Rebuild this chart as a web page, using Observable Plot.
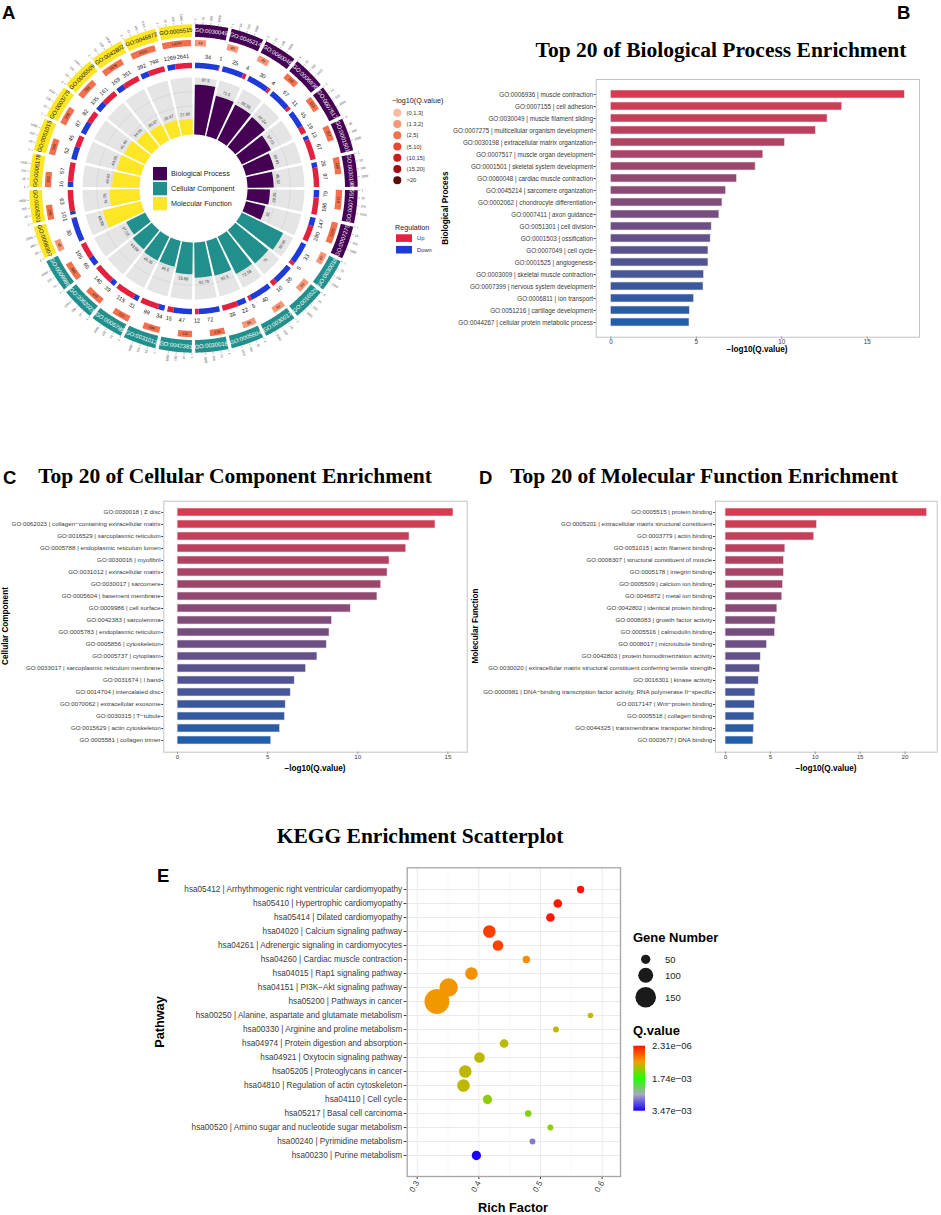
<!DOCTYPE html>
<html><head><meta charset="utf-8">
<script src="https://cdn.jsdelivr.net/npm/d3@7"></script>
<script src="https://cdn.jsdelivr.net/npm/@observablehq/plot@0.6"></script>
<style>
body{margin:0;background:#fff}
#root{position:relative;width:941px;height:1215px;overflow:hidden;background:#fff}
.panel{position:absolute}
.panel svg{overflow:visible}
</style></head><body><div id="root"></div>
<script>
// ================= DATA =================
// Panel A (circular GO plot), clockwise from 12 o'clock
const circleIds = ["GO:0030049","GO:0045214","GO:0060048","GO:0006936","GO:0007517","GO:0001501","GO:0030198","GO:0007155","GO:0007275",
  "GO:0030016","GO:0016529","GO:0030017","GO:0005604","GO:0030018","GO:0042383","GO:0031012","GO:0005788","GO:0062023","GO:0009986",
  "GO:0008307","GO:0005201","GO:0005178","GO:0051015","GO:0003779","GO:0005509","GO:0042802","GO:0046872","GO:0005515"];
const circleCats = ["BP","BP","BP","BP","BP","BP","BP","BP","BP",
  "CC","CC","CC","CC","CC","CC","CC","CC","CC","CC",
  "MF","MF","MF","MF","MF","MF","MF","MF","MF"];
const circleRatio = [87.5,72.5,69.39,67.24,57.01,50.91,45.92,39.35,35,
  80.85,75,72.58,62.5,61.76,55.88,46.5,46.35,43.09,37.03,
  68.88,52.79,48.03,44.05,41.42,34.59,30.97,28.67,27.35];
const circleDown = [34,25,30,67,45,13,26,79,147, 33,38,40,22,72,47,34,31,39,60, 30,10,16,52,87,105,169,392,1269];
const circleUp = [1,4,4,11,19,67,97,186,280, 5,10,5,38,12,15,99,115,140,105, 1,63,57,45,82,161,351,798,2641];
const circleTotal = [40,40,49,116,112,157,268,673,1220, 47,64,62,96,136,111,286,315,415,446, 45,138,152,220,408,769,1679,4151,14297];
const circleQLevel = [1,1,1,2,2,2,2,2,2, 1,1,1,1,2,2,2,2,2,2, 1,2,2,2,2,2,2,2,2];
const qLevelLabels = ["(0,1.3]","(1.3,2]","(2,5]","(5,10]","(10,15]","(15,20]",">20"];
const qLevelColors = ["#FCBBA1","#F99677","#F4704C","#EC4530","#CC1C1F","#A10F15","#5E0B0D"];
const catNames = ["Biological Process","Cellular Component","Molecular Function"];
const catColors = ["#440154","#21908C","#FDE725"];
const scaleTicks = [1,10,100,1000];

// Panel B
const bpLabels = ["GO:0006936 | muscle contraction","GO:0007155 | cell adhesion","GO:0030049 | muscle filament sliding","GO:0007275 | multicellular organism development","GO:0030198 | extracellular matrix organization","GO:0007517 | muscle organ development","GO:0001501 | skeletal system development","GO:0060048 | cardiac muscle contraction","GO:0045214 | sarcomere organization","GO:0002062 | chondrocyte differentiation","GO:0007411 | axon guidance","GO:0051301 | cell division","GO:0001503 | ossification","GO:0007049 | cell cycle","GO:0001525 | angiogenesis","GO:0003009 | skeletal muscle contraction","GO:0007399 | nervous system development","GO:0006811 | ion transport","GO:0051216 | cartilage development","GO:0044267 | cellular protein metabolic process"];
const bpValues = [17.2,13.54,12.68,12.0,10.19,8.92,8.47,7.38,6.74,6.53,6.35,5.9,5.84,5.71,5.71,5.45,5.42,4.87,4.62,4.6];

// Panel C
const ccLabels = ["GO:0030018 | Z disc","GO:0062023 | collagen\u2212containing extracellular matrix","GO:0016529 | sarcoplasmic reticulum","GO:0005788 | endoplasmic reticulum lumen","GO:0030016 | myofibril","GO:0031012 | extracellular matrix","GO:0030017 | sarcomere","GO:0005604 | basement membrane","GO:0009986 | cell surface","GO:0042383 | sarcolemma","GO:0005783 | endoplasmic reticulum","GO:0005856 | cytoskeleton","GO:0005737 | cytoplasm","GO:0033017 | sarcoplasmic reticulum membrane","GO:0031674 | I band","GO:0014704 | intercalated disc","GO:0070062 | extracellular exosome","GO:0030315 | T\u2212tubule","GO:0015629 | actin cytoskeleton","GO:0005581 | collagen trimer"];
const ccValues = [15.31,14.31,12.87,12.69,11.76,11.65,11.3,11.09,9.61,8.57,8.43,8.28,7.76,7.13,6.5,6.28,6.0,5.96,5.69,5.2];

// Panel D
const mfLabels = ["GO:0005515 | protein binding","GO:0005201 | extracellular matrix structural constituent","GO:0003779 | actin binding","GO:0051015 | actin filament binding","GO:0008307 | structural constituent of muscle","GO:0005178 | integrin binding","GO:0005509 | calcium ion binding","GO:0046872 | metal ion binding","GO:0042802 | identical protein binding","GO:0008083 | growth factor activity","GO:0005516 | calmodulin binding","GO:0008017 | microtubule binding","GO:0042803 | protein homodimerization activity","GO:0030020 | extracellular matrix structural constituent conferring tensile strength","GO:0016301 | kinase activity","GO:0000981 | DNA\u2212binding transcription factor activity, RNA polymerase II\u2212specific","GO:0017147 | Wnt\u2212protein binding","GO:0005518 | collagen binding","GO:0044325 | transmembrane transporter binding","GO:0003677 | DNA binding"];
const mfValues = [22.48,10.19,9.89,6.67,6.52,6.52,6.41,6.33,5.78,5.59,5.52,4.63,3.93,3.85,3.7,3.33,3.26,3.22,3.19,3.11];

// Panel E
const keggLabels = ["hsa05412 | Arrhythmogenic right ventricular cardiomyopathy","hsa05410 | Hypertrophic cardiomyopathy","hsa05414 | Dilated cardiomyopathy","hsa04020 | Calcium signaling pathway","hsa04261 | Adrenergic signaling in cardiomyocytes","hsa04260 | Cardiac muscle contraction","hsa04015 | Rap1 signaling pathway","hsa04151 | PI3K\u2212Akt signaling pathway","hsa05200 | Pathways in cancer","hsa00250 | Alanine, aspartate and glutamate metabolism","hsa00330 | Arginine and proline metabolism","hsa04974 | Protein digestion and absorption","hsa04921 | Oxytocin signaling pathway","hsa05205 | Proteoglycans in cancer","hsa04810 | Regulation of actin cytoskeleton","hsa04110 | Cell cycle","hsa05217 | Basal cell carcinoma","hsa00520 | Amino sugar and nucleotide sugar metabolism","hsa00240 | Pyrimidine metabolism","hsa00230 | Purine metabolism"];
const keggRich = [0.565,0.528,0.516,0.417,0.431,0.477,0.388,0.351,0.332,0.581,0.525,0.441,0.401,0.378,0.375,0.414,0.48,0.516,0.487,0.396];
const keggGenes = [33,44,44,79,62,33,79,130,188,17,20,44,62,79,79,50,26,20,20,50];
const keggQ = [2.31e-6,2.0e-5,3.0e-5,2.6e-4,3.0e-4,7.5e-4,7.8e-4,8.0e-4,8.2e-4,1.06e-3,1.08e-3,1.1e-3,1.1e-3,1.08e-3,1.09e-3,1.27e-3,1.33e-3,1.3e-3,2.83e-3,3.47e-3];
const geneLegend = [50,100,150];
const qStops = [2.31e-6,8.7e-4,1.74e-3,2.6e-3,3.47e-3];
const qColors = ["#FF1400","#F0A000","#22FF00","#A8A8B8","#1A00FF"];
const qLegendLabels = ["2.31e\u221206","1.74e\u221203","3.47e\u221203"];

// ================= HELPERS =================
const SANS = "'Liberation Sans', Arial, Helvetica, sans-serif";
const SERIF = "'Liberation Serif', 'Times New Roman', serif";
const root = document.getElementById("root");
function place(node, left, top) {
  const d = document.createElement("div");
  d.className = "panel"; d.style.left = left + "px"; d.style.top = top + "px";
  d.appendChild(node); root.appendChild(d);
}

// ================= PANEL A =================
const N = circleIds.length, W = 360 / N, d2r = Math.PI / 180;
const R = {bar0: 54, bar1: 111, ring0: 120.3, ring1: 125.8, ringLab: 132.2, box0: 142.3, box1: 148.6,
           boxLab: 145.5, band0: 151.5, band1: 164.2, tick0: 164.6, tick1: 166.8, tickLab: 168};
const logMax = 4.3;
const P = (a, r) => ({x: r * Math.sin(a * d2r), y: r * Math.cos(a * d2r)});
const tang = a => { const t = ((a % 360) + 360) % 360; return (t > 90 && t < 270) ? t - 180 : t; };
function wedge(key, a0, a1, r0, r1, fill) {
  const n = Math.max(2, Math.ceil((a1 - a0) / 0.4)), out = [];
  for (let k = 0; k <= n; k++) out.push({key, fill, ...P(a0 + (a1 - a0) * k / n, r1)});
  for (let k = n; k >= 0; k--) out.push({key, fill, ...P(a0 + (a1 - a0) * k / n, r0)});
  return out;
}
function arc(key, a0, a1, r) {
  const n = Math.max(2, Math.ceil((a1 - a0) / 0.4)), out = [];
  for (let k = 0; k <= n; k++) out.push({key, ...P(a0 + (a1 - a0) * k / n, r)});
  return out;
}
const catIdx = {BP: 0, CC: 1, MF: 2};
const grey = [], grid = [], bars = [], valLab = [], ring = [], ringLab = [], boxes = [], boxLab = [], band = [], bandLab = [], ticks = [], tickLabR = [], tickLabL = [];
circleIds.forEach((id, i) => {
  const s = i * W, e = (i + 1) * W, c = catColors[catIdx[circleCats[i]]];
  const b0 = s + 0.75, b1 = e - 0.75;
  grey.push(...wedge("g" + i, b0, b1, R.bar0, R.bar1, "#E5E5E5"));
  [25, 50, 75].forEach(f => grid.push(...arc("a" + i + "_" + f, b0, b1, R.bar0 + (R.bar1 - R.bar0) * f / 100)));
  const rv = R.bar0 + (R.bar1 - R.bar0) * circleRatio[i] / 100;
  bars.push(...wedge("b" + i, b0, b1, R.bar0, rv, c));
  const mid = (s + e) / 2;
  valLab.push({...P(mid, rv + 4.8), t: String(circleRatio[i]), rot: tang(mid)});
  // up / down ring
  const r0 = s + 0.7, r1 = e - 0.7, tot = circleDown[i] + circleUp[i];
  const split = r0 + (r1 - r0) * circleDown[i] / tot;
  ring.push(...wedge("d" + i, r0, split, R.ring0, R.ring1, "#1E3AD8"));
  ring.push(...wedge("u" + i, split, r1, R.ring0, R.ring1, "#E5203E"));
  const md = (r0 + split) / 2, mu = (split + r1) / 2;
  ringLab.push({...P(md, R.ringLab), t: String(circleDown[i]), rot: tang(md)});
  ringLab.push({...P(mu, R.ringLab), t: String(circleUp[i]), rot: tang(mu)});
  // gene count boxes (log scale)
  const x0 = s + 0.55, span = W - 1.1;
  const x1 = x0 + span * Math.log10(circleTotal[i]) / logMax;
  boxes.push(...wedge("x" + i, x0, x1, R.box0, R.box1, qLevelColors[circleQLevel[i]]));
  const mb = (x0 + x1) / 2;
  boxLab.push({...P(mb, R.boxLab), t: String(circleTotal[i]), rot: tang(mb)});
  // outer band
  band.push(...wedge("o" + i, s + 0.6, e - 0.6, R.band0, R.band1, c));
  bandLab.push({...P(mid, (R.band0 + R.band1) / 2), t: id, rot: tang(mid), tc: circleCats[i] === "MF" ? "#111111" : "#FFFFFF"});
  scaleTicks.forEach(v => {
    const a = x0 + span * Math.log10(v) / logMax;
    const p0 = P(a, R.tick0), p1 = P(a, R.tick1), pl = P(a, R.tickLab);
    ticks.push({x1: p0.x, y1: p0.y, x2: p1.x, y2: p1.y});
    const t = ((a % 360) + 360) % 360;
    if (t < 180) tickLabR.push({...pl, t: String(v), rot: t - 90});
    else tickLabL.push({...pl, t: String(v), rot: t - 270});
  });
});
const polyOpts = {x: "x", y: "y", z: "key", fill: "fill", stroke: "none", curve: "linear-closed"};
const circlePlot = Plot.plot({
  width: 400, height: 400, margin: 0,
  x: {domain: [-193, 207], axis: null}, y: {domain: [-212, 188], axis: null},
  color: {type: "identity"},
  style: {fontFamily: SANS, background: "transparent", overflow: "visible"},
  marks: [
    Plot.line(grey, polyOpts),
    Plot.line(grid, {x: "x", y: "y", z: "key", stroke: "#CDCDCD", strokeWidth: 0.6}),
    Plot.line(bars, polyOpts),
    Plot.text(valLab, {x: "x", y: "y", text: "t", rotate: "rot", fontSize: 4, fill: "#333"}),
    Plot.line(ring, polyOpts),
    Plot.text(ringLab, {x: "x", y: "y", text: "t", rotate: "rot", fontSize: 5.6, fill: "#111"}),
    Plot.line(boxes, polyOpts),
    Plot.text(boxLab, {x: "x", y: "y", text: "t", rotate: "rot", fontSize: 3.8, fill: "#222"}),
    Plot.line(band, polyOpts),
    Plot.text(bandLab, {x: "x", y: "y", text: "t", rotate: "rot", fontSize: 5.8, fill: "tc"}),
    Plot.link(ticks, {x1: "x1", y1: "y1", x2: "x2", y2: "y2", stroke: "#666", strokeWidth: 0.4}),
    Plot.text(tickLabR, {x: "x", y: "y", text: "t", rotate: "rot", fontSize: 3.2, fill: "#444", textAnchor: "start"}),
    Plot.text(tickLabL, {x: "x", y: "y", text: "t", rotate: "rot", fontSize: 3.2, fill: "#444", textAnchor: "end"})
  ]
});
place(circlePlot, 0, 0);

// ================= BAR PANELS =================
function barPanel(labels, values, o) {
  const data = labels.map((l, i) => ({label: l, value: values[i], rank: i}));
  return Plot.plot({
    width: o.width, height: o.height,
    marginLeft: o.ml, marginRight: o.mr, marginTop: o.mt, marginBottom: o.mb,
    x: {domain: o.xdom, ticks: o.ticks, tickSize: 1.8, tickPadding: 0.8, label: null},
    y: {domain: labels, paddingInner: 0.3, paddingOuter: 0.25, tickSize: 2, tickPadding: 1.2, label: null},
    color: {type: "linear", domain: [0, labels.length - 1], range: ["#D73B4F", "#1F5EAA"], interpolate: "rgb"},
    style: {fontFamily: SANS, fontSize: o.fs + "px", color: "#3A3A3A", background: "transparent", overflow: "visible"},
    marks: [
      Plot.barX(data, {y: "label", x1: 0, x2: "value", fill: "rank", stroke: "#F2E4EA", strokeWidth: 0.6}),
      Plot.frame({stroke: "#C4C4C4", strokeWidth: 1})
    ]
  });
}
place(barPanel(bpLabels, bpValues, {width: 485, height: 290, ml: 155.7, mr: 6, mt: 9, mb: 23.3, xdom: [-0.86, 18.06], ticks: [0,5,10,15], fs: 6.3}), 440, 70);
place(barPanel(ccLabels, ccValues, {width: 470, height: 290, ml: 163.3, mr: 3.3, mt: 10.7, mb: 28.3, xdom: [-0.765, 16.07], ticks: [0,5,10,15], fs: 6.2}), 0, 490);
place(barPanel(mfLabels, mfValues, {width: 471, height: 290, ml: 245, mr: 4.3, mt: 10.7, mb: 28.3, xdom: [-1.12, 23.6], ticks: [0,5,10,15,20], fs: 6.2}), 470, 490);

// ================= PANEL E =================
const keggData = keggLabels.map((l, i) => ({label: l, rich: keggRich[i], genes: keggGenes[i], q: keggQ[i]}));
const rScale = {type: "linear", domain: [50, 150], range: [4.65, 10.3]};
const ePlot = Plot.plot({
  width: 480, height: 340, marginLeft: 256.7, marginRight: 10, marginTop: 7.3, marginBottom: 24,
  x: {domain: [0.2838, 0.6297], ticks: [0.3, 0.4, 0.5, 0.6], tickFormat: d3.format(".1f"), tickRotate: -60, tickSize: 3, tickPadding: 2, label: null},
  y: {type: "point", domain: keggLabels, padding: 1.5, tickSize: 3, tickPadding: 2, label: null},
  r: rScale,
  color: {type: "linear", domain: qStops, range: qColors, interpolate: "rgb"},
  style: {fontFamily: SANS, fontSize: "8.2px", color: "#3A3A3A", background: "transparent", overflow: "visible"},
  marks: [
    Plot.ruleX([0.35, 0.45, 0.55], {stroke: "#F4F4F4", strokeWidth: 0.6}),
    Plot.ruleX([0.3, 0.4, 0.5, 0.6], {stroke: "#EBEBEB", strokeWidth: 1}),
    Plot.ruleY(keggLabels, {stroke: "#EBEBEB", strokeWidth: 1}),
    Plot.dot(keggData, {x: "rich", y: "label", r: "genes", fill: "q", stroke: "none"}),
    Plot.frame({stroke: "#A6A6A6", strokeWidth: 1.3})
  ]
});
place(ePlot, 150, 860);

// ================= OVERLAY TEXT / LEGENDS =================
const ov = d3.select(root).append("svg").attr("width", 941).attr("height", 1215)
  .style("position", "absolute").style("left", "0px").style("top", "0px").style("pointer-events", "none");
function txt(s, x, y, o = {}) {
  const t = ov.append("text").attr("x", x).attr("y", y).text(s)
    .attr("font-family", o.family || SANS).attr("font-size", o.size || 8)
    .attr("font-weight", o.weight || "normal").attr("fill", o.fill || "#000")
    .attr("text-anchor", o.anchor || "start");
  if (o.rotate) t.attr("transform", `rotate(${o.rotate},${x},${y})`);
  if (o.mid) t.attr("dominant-baseline", "central");
  return t;
}
// panel letters
[["A", 2, 18.5], ["B", 897, 18.5], ["C", 3, 484], ["D", 479, 484], ["E", 157, 882]]
  .forEach(([s, x, y]) => txt(s, x, y, {size: 18.5, weight: "bold"}));
// titles
txt("Top 20 of Biological Process Enrichment", 721, 57, {family: SERIF, size: 21.5, weight: "bold", anchor: "middle"});
txt("Top 20 of Cellular Component Enrichment", 235, 483, {family: SERIF, size: 21.5, weight: "bold", anchor: "middle"});
txt("Top 20 of Molecular Function Enrichment", 704, 483, {family: SERIF, size: 21.5, weight: "bold", anchor: "middle"});
txt("KEGG Enrichment Scatterplot", 420, 843, {family: SERIF, size: 21.5, weight: "bold", anchor: "middle"});
// axis titles
const ax = {size: 8.2, weight: "bold", anchor: "middle"};
txt("\u2212log10(Q.value)", 757, 351.5, ax);
txt("Biological Process", 447.5, 208, {...ax, rotate: -90});
txt("\u2212log10(Q.value)", 315, 770.5, ax);
txt("Cellular Component", 8.2, 626, {...ax, rotate: -90});
txt("\u2212log10(Q.value)", 826, 770.5, ax);
txt("Molecular Function", 478.2, 626, {...ax, rotate: -90});
txt("Rich Factor", 513, 1211.5, {size: 12.7, weight: "bold", anchor: "middle"});
txt("Pathway", 164, 1022, {size: 12.7, weight: "bold", anchor: "middle", rotate: -90});
// circle center legend
catNames.forEach((n, i) => {
  ov.append("rect").attr("x", 153).attr("y", 167 + 15 * i).attr("width", 14).attr("height", 13.3).attr("fill", catColors[i]);
  txt(n, 171, 173.8 + 15 * i, {size: 7.2, fill: "#222", mid: true});
});
// -log10 legend
txt("\u2212log10(Q.value)", 392, 103, {size: 7.2, fill: "#222"});
qLevelLabels.forEach((l, i) => {
  const y = 112.7 + 11.27 * i;
  ov.append("circle").attr("cx", 397.3).attr("cy", y).attr("r", 4).attr("fill", qLevelColors[i]);
  txt(l, 406.5, y, {size: 5.8, fill: "#333", mid: true});
});
txt("Regulation", 395, 230, {size: 7.2, fill: "#222"});
[["Up", "#E5203E"], ["Down", "#1E3AD8"]].forEach(([l, c], i) => {
  ov.append("rect").attr("x", 396).attr("y", 234.3 + 11.6 * i).attr("width", 16).attr("height", 7.6).attr("fill", c);
  txt(l, 417, 238.2 + 11.6 * i, {size: 5.8, fill: "#333", mid: true});
});
// E legends
txt("Gene Number", 633, 942, {size: 13, weight: "bold"});
const rLin = d3.scaleLinear().domain(rScale.domain).range(rScale.range);
const geneY = [959.3, 975.3, 997.3];
geneLegend.forEach((g, i) => {
  ov.append("circle").attr("cx", 645.7).attr("cy", geneY[i]).attr("r", rLin(g)).attr("fill", "#1A1A1A");
  txt(String(g), 665, geneY[i], {size: 9.5, fill: "#222", mid: true});
});
txt("Q.value", 633, 1035, {size: 13, weight: "bold"});
const defs = ov.append("defs");
const grad = defs.append("linearGradient").attr("id", "qgrad").attr("x1", 0).attr("y1", 0).attr("x2", 0).attr("y2", 1);
qColors.forEach((c, i) => grad.append("stop").attr("offset", (qStops[i] - qStops[0]) / (qStops[4] - qStops[0])).attr("stop-color", c));
ov.append("rect").attr("x", 633.3).attr("y", 1045.7).attr("width", 11.7).attr("height", 65).attr("fill", "url(#qgrad)");
[1045.7, 1078.2, 1110.7].forEach((y, i) => txt(qLegendLabels[i], 652, y, {size: 9.5, fill: "#222", mid: true}));
</script></body></html>
